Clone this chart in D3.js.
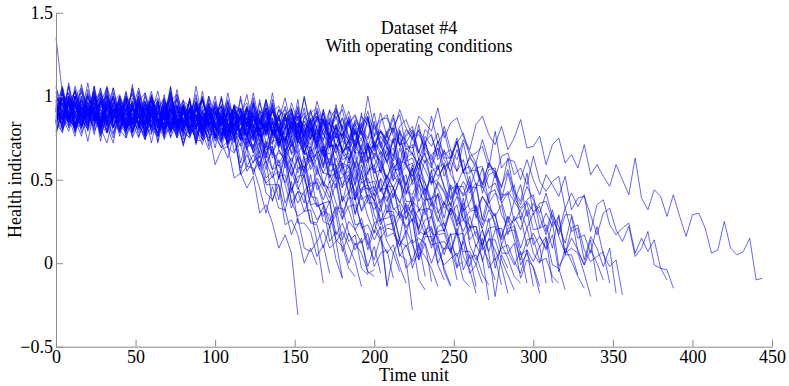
<!DOCTYPE html>
<html>
<head>
<meta charset="utf-8">
<script src="https://cdn.jsdelivr.net/npm/d3@7"></script>
<style>
  body { margin: 0; background: #fff; }
  svg { display: block; }
  svg text { font-family: "Liberation Serif", "Times New Roman", serif; }
</style>
</head>
<body>
<div id="chart"></div>
<script>
// health indicator per unit, in hundredths, one reading every timeStep units
var timeStep = 4;
var u01 = [93,84,98,87,80,94,90,84,99,81,90,93,84,75,91, 95,85,80,92,75,82,93,74,73,78,59,68,70,51,54,45,52,30,35,24,9,17,6,-31];
var u02 = [91,86,98,93,87,102,91,81,96,99,88,92,84,103,90,85, 93,98,80,91,85,92,71,88,90,76,69,73,75,57,65,55,61,42,38,47,23,26,17,0,9,-1];
var u03 = [94,91,84,95,85,81,101,77,87,91,83,78,95,84,89,72,90,86, 79,93,79,75,85,88,77,77,69,85,67,72,55,61,64,47,47,47,31,49,24,24,19,4,11,-6];
var u04 = [94,98,89,79,95,100,90,85,97,82,90,102,85,87,95,78,91,96,82, 89,85,98,80,90,84,74,87,81,72,89,69,60,70,61,51,62,47,33,43,41,24,23,9,22,2,-9];
var u05 = [135,102,82,100,105,93,89,95,101,86,98,92,102,88,90,103,85,94,92,81, 97,94,87,98,87,82,100,76,84,85,75,68,82,68,70,50,64,55,44,53,35,26,31,29,14,10,-3,-8];
var u06 = [80,93,98,83,90,86,99,81,92,87,79,93,89,82,102,83,78,91,86,79,94, 83,74,89,91,79,83,74,91,77,71,77,79,60,68,60,66,42,57,58,42,34,36,37,17,24,13,17,-3,-7];
var u07 = [83,79,96,84,89,73,91,86,79,93,80,75,86,90,81,82,76,94,79,86,72,82, 89,76,80,84,72,94,73,78,77,66,78,66,56,68,61,53,64,43,48,48,35,21,33,33,18,8,15,-6,-4];
var u08 = [84,99,95,87,107,89,84,96,91,85,100,88,79,94,97,85,90,82,101,87,83,91, 96,79,90,84,92,71,89,93,80,74,79,83,65,75,67,74,57,56,66,44,49,43,29,40,32,20,27,12,2,16,-13];
var u09 = [85,81,92,95,86,88,82,99,84,92,78,87,94,81,85,89,78,101,81,86,87,78,92, 82,75,89,84,79,93,74,82,84,74,63,77,80,68,61,70,53,58,67,47,45,50,30,39,39,21,23,14,22,-14,6,-5];
var u10 = [91,96,88,106,93,89,97,101,84,95,90,98,78,97,102,89,85,92,98,82,94,89,99,84, 86,100,82,90,88,77,92,88,79,90,78,72,90,65,72,74,63,56,70,55,57,37,51,43,32,41,24,15,21,20,5,2,-28];
var u11 = [100,90,86,97,82,90,103,85,87,95,79,91,96,82,89,84,97,80,91,85,77,92,88,81,100, 82,77,90,84,78,92,80,70,83,85,72,76,66,82,67,60,66,68,48,56,47,53,29,44,45,29,20,23,24,4,11,1,5];
var u12 = [91,86,96,81,83,97,79,87,85,75,91,87,80,92,82,77,97,74,84,87,79,75,92,80,85, 69,87,83,75,89,75,70,80,83,73,74,66,82,66,72,56,63,68,52,54,56,42,61,38,41,38,25,35,21,10,20,11,2,12,-11];
var u13 = [99,95,90,104,86,95,99,89,80,96,101,90,86,98,83,90,103,86,88,95,79,92,97,82,89,85, 98,81,92,86,78,92,87,79,98,79,73,84,77,69,82,69,58,70,71,57,59,48,64,47,40,44,45,24,31,22,26,2,16,16,-1,-10];
var u14 = [84,104,81,90,94,86,82,98,87,92,76,93,89,82,96,82,78,89,93,83,85,79,97,81,89,75,85, 92,79,83,87,76,98,78,83,83,73,85,74,65,78,72,65,78,57,64,66,54,42,55,57,44,37,45,27,31,40,19,17,21,0,9,9,-10];
var u15 = [105,94,85,99,102,91,96,87,106,93,89,96,101,84,95,89,98,78,97,101,89,85,92,98,82,94,89,98, 85,87,101,82,91,88,77,92,88,80,91,79,74,92,67,75,76,66,60,74,60,62,43,58,50,40,50,33,25,32,32,18,16,5,18,-2,1];
var u16 = [79,89,96,82,86,91,80,102,82,88,89,79,93,83,76,89,85,80,95,77,85,89,80,71,86,91,81,76,88, 73,81,94,76,78,85,69,81,85,70,76,71,82,64,73,66,56,69,63,54,71,51,43,53,45,36,48,34,21,33,32,17,18,6,21,4,-4,-18];
var u17 = [89,102,85,95,90,82,97,92,85,105,87,81,94,89,83,97,86,77,92,94,83,88,80,98,85,81,89,93,76,87, 82,91,71,89,94,82,77,83,88,72,83,77,85,70,70,82,62,69,65,53,66,61,51,60,48,41,57,31,38,38,27,19,32,17,18,-2,11,3,-22];
var u18 = [83,101,97,89,103,90,86,96,100,91,93,86,104,89,97,82,92,99,86,90,94,83,106,86,91,92,83,96,86,79, 93,89,84,98,80,88,92,82,72,87,91,80,74,85,68,74,85,66,66,72,54,64,67,50,54,47,57,37,45,36,25,36,28,17,33,11,2,10,1,-10];
var u19 = [84,92,97,79,90,85,94,73,92,97,85,80,87,93,78,89,84,94,80,82,95,77,86,84,73,89,86,79,90,80,76, 96,73,83,87,78,74,90,78,83,66,83,78,69,82,68,62,71,74,63,63,55,70,53,59,42,49,54,38,39,41,27,46,23,26,23,10,20,6,-20,5,-3];
var u20 = [93,106,89,90,98,82,95,99,85,92,88,100,83,94,89,80,95,91,84,104,85,80,93,87,81,96,85,75,90,93,82,86, 79,98,85,81,88,93,75,85,79,87,66,84,88,74,69,74,79,62,72,65,73,56,56,67,47,53,48,35,48,42,31,40,26,19,35,8,14,14,2,-7,-16];
var u21 = [88,84,91,96,81,93,88,97,83,85,99,80,89,87,77,92,89,82,94,83,79,99,76,85,89,81,77,93,82,87,71,88, 85,78,92,79,74,85,88,79,80,73,90,74,81,66,74,80,65,68,71,58,79,57,61,60,49,60,48,38,49,43,35,47,26,31,32,20,7,20,21,7,-1,7,-12];
var u22 = [94,88,106,90,98,84,94,100,87,91,96,84,107,87,93,93,84,98,88,80,94,90,85,100,81,90,94,84,75,91,96,85,81, 93,78,86,99,81,83,90,74,86,90,75,81,76,88,69,79,72,63,76,70,61,79,59,52,63,56,47,59,46,34,46,46,32,34,23,38,22,14,19,20,-1,6,-3,-18];
var u23 = [98,80,89,86,76,92,89,81,93,83,79,98,75,85,89,80,76,93,82,86,70,88,84,77,90,77,73,83,87,78,80,73,91,76, 84,70,80,87,73,77,81,70,92,71,77,77,67,79,68,60,73,67,61,74,54,61,63,52,41,55,58,45,39,48,31,36,46,26,25,30,11,21,22,5,8,1,10,-12];
var u24 = [96,85,108,87,93,94,85,98,88,81,95,90,85,100,82,90,94,85,76,92,97,87,82,94,79,86,99,82,84,91,75,88,92,78,85, 81,94,77,88,82,74,88,84,76,95,77,71,83,77,69,83,71,60,74,75,63,66,56,73,58,52,58,60,41,49,42,48,26,42,44,29,22,26,28,10,18,10,16,-1,-3,-16];
var u25 = [106,88,97,100,91,82,98,102,92,88,100,84,92,105,88,89,97,81,94,98,84,91,87,99,82,93,88,79,94,90,83,102,84,79,92,86, 81,96,85,76,90,93,82,86,77,95,82,77,84,88,70,79,73,81,59,76,80,66,60,65,69,52,62,55,62,46,45,57,36,42,37,24,37,31,21,30,16,9,25,-2,5,5,-7];
var u26 = [85,105,87,81,94,89,83,97,86,77,92,94,83,88,80,98,85,81,89,94,76,87,82,91,70,89,94,82,77,84,90,75,86,81,91,76,78, 92,74,83,81,70,86,83,75,87,76,71,90,67,76,79,69,64,80,68,71,54,70,64,56,68,53,47,56,58,47,46,38,54,36,42,25,32,36,20,21,23,9,29,6,9,6,-6,-20];
var u27 = [93,83,99,95,88,100,90,85,105,82,92,95,87,83,100,88,93,77,95,91,83,97,84,79,90,94,85,86,80,98,83,90,76,86,93,79,83,88, 77,100,80,86,86,77,91,80,73,86,81,75,90,71,79,81,71,61,76,79,68,62,73,56,62,73,54,54,60,42,53,55,39,43,37,47,28,36,28,17,29,22,12,28,7,-1,8,0,-10];
var u28 = [92,96,87,88,82,100,85,92,78,88,95,81,85,90,79,101,81,87,88,78,92,82,75,88,84,79,94,75,84,88,79,69,85,90,80,75,87,72,80, 93,76,78,86,69,82,87,72,79,74,86,69,79,73,64,78,73,65,83,64,57,69,62,55,68,55,44,57,58,45,48,38,54,39,33,38,41,21,30,22,28,5,21,23,8,1,4,7,-12];
var u29 = [91,82,98,102,92,88,100,84,92,105,88,89,97,81,94,98,84,91,87,99,82,93,88,79,94,90,83,102,84,79,92,87,80,95,84,74,89,92,81,85, 78,97,84,80,87,92,75,85,79,88,67,85,89,76,71,77,82,66,76,70,78,63,63,75,55,63,59,47,60,55,46,56,43,37,54,29,36,37,26,19,33,19,21,2,16,9,-2,9,-18];
var u30 = [92,96,88,83,100,89,94,77,95,91,84,97,84,80,91,94,85,87,81,98,83,91,77,86,93,80,84,89,77,100,80,86,86,77,91,81,73,87,83,77,92, 74,83,87,78,68,84,89,78,74,85,69,77,89,71,72,79,62,73,77,62,67,62,73,54,64,57,47,60,54,45,63,42,35,46,38,30,42,28,17,29,29,15,17,6,22,5,-2,2,-19];
var u31 = [97,100,89,93,85,104,91,86,94,99,82,92,87,96,76,94,99,87,83,89,95,80,92,86,96,82,84,97,79,88,86,76,91,88,81,92,82,78,98,74,84,88,80,75,92, 81,86,70,88,83,76,90,76,72,82,86,76,77,70,88,72,79,63,72,78,64,66,70,57,79,57,62,61,50,62,50,41,53,47,40,52,32,39,40,29,17,30,33,20,13,22,4,9,19,-1,-3,-10];
var u32 = [85,99,86,81,92,96,87,88,82,100,85,92,78,88,95,81,85,90,79,101,81,87,88,78,92,82,75,88,84,79,94,75,84,88,79,70,85,90,80,75,87,72,80,92,75,77, 85,69,82,87,72,79,75,87,70,80,75,66,80,76,64,82,68,62,74,67,60,74,61,51,64,66,53,57,47,64,49,43,49,52,33,42,34,41,19,35,38,23,17,21,24,6,15,7,14,-3,-4,-15];
var u33 = [103,88,100,94,104,90,92,105,87,96,94,83,99,96,89,100,90,86,106,82,92,96,88,83,100,89,94,77,95,91,84,97,84,80,91,94,85,87,81,99,83,91,77,86,93,80,84,88,77,100, 80,86,87,78,92,81,74,88,84,79,93,75,84,87,76,68,83,88,77,71,82,68,75,86,69,70,76,59,71,75,60,65,57,71,53,59,52,46,59,50,41,63,39,32,44,40,28,41,28,16,29,30,21,6,8,25,9,5,7,15,-10,-9];
var u34 = [92,87,79,93,89,82,102,83,78,91,86,79,94,83,74,88,91,80,85,76,95,82,78,85,90, 73,81,72,78,54,70,71,56,48,52,55,36,45,36,43,25,24,34,13,19,13,0,12,6,-5,-8];
var u35 = [90,86,106,82,92,96,88,83,100,89,94,77,95,91,84,97,84,80,91,95,85,87,81,99,83,91,77,86, 93,77,78,80,66,86,63,66,64,52,63,50,40,51,44,36,48,27,34,35,23,11,24,26,13,6,15,-3,2,12,-8];
var u36 = [76,95,100,87,83,90,96,80,92,87,97,82,84,98,80,88,86,76,92,88,81,93,83,78,98,75, 85,88,80,74,90,78,81,63,79,73,64,76,61,55,63,65,54,53,45,60,42,48,31,38,42,26,27,29,15,35,12,15,12,0,11,-3,-13];
var u37 = [91,87,82,96,78,87,91,81,72,88,93,82,78,90,75,82,95,78,80,87,71,84,89,74,81,77,90,72, 83,77,69,82,77,69,87,68,61,72,65,57,70,57,46,59,59,46,49,38,55,39,32,38,40,20,28,21,27,4,20,22,7,-1,3,6,-10,-14];
var u38 = [88,83,96,90,84,99,88,78,93,96,85,89,81,100,87,82,90,95,78,88,83,92,72,91,95,83,79,86,91,76, 88,81,89,72,72,84,64,71,66,54,68,63,54,63,51,45,63,38,45,47,37,31,46,32,35,17,33,27,17,29,14,8,17,18,7,7,-1,15,-3,3,-13];
var u39 = [95,80,88,100,83,85,93,76,89,94,80,86,82,95,78,88,83,75,90,85,78,98,80,74,87,82,76,90,79,70,85, 88,76,80,71,89,75,70,76,80,61,71,64,71,50,67,70,56,50,55,59,43,52,45,53,37,37,49,29,36,32,19,33,28,19,28,16,10,27,2,9,11,1,-6,8,-14];
var u40 = [97,81,99,94,87,101,88,83,94,98,89,90,84,102,87,94,80,90,97,83,87,92,81,103,83,89,90,80,94,84,77,90,86,81, 96,77,86,89,79,70,85,88,77,72,83,66,73,84,66,66,72,54,65,69,53,58,52,62,43,52,45,35,47,41,32,49,29,21,32,24,15,28,14,2,14,15,1,3,-8,-12];
var u41 = [85,92,88,100,83,94,89,80,95,91,84,103,85,80,93,87,81,96,85,75,90,93,82,86, 78,95,79,72,77,78,58,65,56,61,37,52,53,37,28,31,32,13,20,9,13,-9];
var u42 = [91,105,87,95,93,83,99,95,88,100,90,85,105,82,92,95,87,83,100,88,93,77,95,90,83, 97,83,78,89,92,82,83,76,92,76,82,66,75,80,65,67,70,57,78,56,60,58,47,59,46,37,51,44,39,51,26,37,33,21,9,22,24,11,4,13,-6,-1,-12];
var u43 = [88,101,95,82,98,91,96,84,103,88,92,82,95,99,86,87,96,78, 92,88,93,79,93,78,68,78,72,63,78,53,58,57,45,30,46,33,32,17,27,9,7,13,-12];
var u44 = [91,87,95,78,93,89,85,94,78,91,86,99,80,88,82,93,73,90,85,77,94, 81,87,79,92,81,73,92,74,77,68,78,58,71,66,58,64,44,52,53,35,36,28,37,13,19,10,1,-14];
var u45 = [98,96,86,100,89,87,106,82,92,87,97,80,90,94,77,94,91,86,96,81, 86,96,80,83,73,83,89,69,66,77,68,53,67,51,55,38,61,36,43,31,40,39,25,23,29,7,18,11,13,-2,10,-6];
var u46 = [78,91,88,81,100,79,88,90,82,72,93,83,87,78,93,79,83,94,75,85,80,88,72,86, 82,77,87,69,81,74,87,66,72,56,70,51,66,58,48,62,46,49,38,49,36,26,42,23,24,8,20,14,6,11,-2,-12];
var u47 = [85,97,102,88,93,90,104,85,97,93,91,81,97,95,85,99,88,86,105,81,91,86,96,79,89, 93,76,94,90,85,94,79,83,93,77,80,70,80,87,66,64,74,66,51,63,53,55,40,55,36,36,23,31,31,13,10,14,-10,-16];
var u48 = [90,96,84,99,87,80,93,89,83,102,81,89,92,84,74,94,85,89,80,94,81,85,96,76, 86,81,88,71,84,78,72,81,63,73,66,78,57,63,54,64,41,56,48,39,56,37,43,30,41,28,18,35,16,18,11,17,-3,9,4,-3,-14];
var u49 = [83,95,100,86,91,88,102,83,95,91,89,79,95,93,83,97,86,84,103,79,89,84,94,77,87,91,74,91, 88,83,93,78,83,93,78,81,72,83,90,71,69,80,72,58,71,62,64,50,66,48,49,36,46,46,29,27,32,9,19,11,12,-5,-14];
var u50 = [93,86,99,95,89,108,87,95,98,90,80,100,91,95,86,100,87,91,102,83,92,88,96,80,94,90,86, 96,80,92,86,99,79,85,78,88,67,82,75,66,81,66,70,60,71,59,49,67,48,51,41,50,30,42,37,30,36,17,26,28,12,13,7,18,-4,5,-14];
var u51 = [87,78,94,91,81,96,85,82,101,78,88,83,92,76,86,90,72,90,87,81,91,77,82,92,78,82,74,85, 94,75,74,86,79,65,80,71,75,58,79,62,64,53,64,66,51,51,58,38,49,44,46,34,47,33,28,36,29,20,37,13,19,20,9,-3,15,3,5,-7,-13];
var u52 = [87,91,102,82,92,88,96,79,94,90,86,95,79,92,87,100,81,89,83,94,74,91,86,79,95,82,88,79,93,83,76,95, 79,84,77,88,71,86,83,78,86,69,80,84,70,73,69,81,61,71,65,61,50,64,59,47,59,42,37,56,30,37,29,35,15,22,22,1,15,8,-2,-18];
var u53 = [102,88,93,103,89,93,85,96,105,87,87,99,93,81,97,89,94,83,102,86,90,81,94,97,84,86,95,76,90,87, 93,81,96,83,75,87,83,76,94,71,79,80,71,59,78,67,69,58,71,56,58,67,46,53,47,53,34,47,40,34,41,22,33,25,36,14,19,11,20,-3,11,3,-8,-12];
var u54 = [86,92,84,97,87,80,100,83,88,81,93,75,90,88,84,92,76,88,93,80,84,81,95,76,88,84,82,72,88,86,76,90, 79,77,95,71,81,75,84,66,75,78,59,76,71,65,73,57,61,70,54,56,46,56,63,43,41,51,43,29,42,33,36,22,39,21,22,11,21,22,6,6,12,-9,2,-2,-14];
var u55 = [86,102,90,82,95,92,86,104,83,92,95,86,76,97,88,91,82,97,84,87,98,79,89,85,92,76,91,86,82,92,76,88,83,97,78, 86,80,92,72,88,83,75,92,78,83,74,87,76,68,87,69,73,64,75,56,69,65,59,66,48,57,60,44,47,41,52,31,40,33,28,16,28,23,9,21,6,0,15,-12];
var u56 = [92,87,97,80,90,94,77,94,91,86,96,81,86,97,83,86,78,90,99,80,80,93,87,74,90,83,88,76,95,80,84,74,87,91,78, 80,89,70,84,80,85,72,87,74,66,78,74,66,84,61,69,71,61,49,69,58,60,49,62,48,50,59,38,46,40,46,27,40,34,28,35,17,28,20,32,11,16,8,17,-5,9,1,-8,-15];
var u57 = [92,98,90,103,93,86,106,89,94,87,99,81,96,94,90,98,82,94,99,85,90,87,101,82,94,90,88,78,94,92,82,96,85,83,102,78,88,83,93,76, 86,90,73,91,87,82,91,77,81,91,77,80,71,82,89,70,69,80,73,59,73,65,68,55,72,55,56,45,56,57,41,41,47,26,37,31,34,19,32,16,6,15,8,-1,14,-11];
var u58 = [92,95,87,76,97,88,92,82,97,84,88,98,79,89,85,92,76,91,87,83,92,76, 89,83,95,75,81,73,83,60,75,67,58,72,56,59,48,59,46,36,53,34,36,25,34,14,25,20,12,18,-2,6,8,-9];

var units = [u01,u02,u03,u04,u05,u06,u07,u08,u09,u10,u11,u12,u13,u14,u15,u16,u17,u18,u19,u20,
             u21,u22,u23,u24,u25,u26,u27,u28,u29,u30,u31,u32,u33,u34,u35,u36,u37,u38,u39,u40,
             u41,u42,u43,u44,u45,u46,u47,u48,u49,u50,u51,u52,u53,u54,u55,u56,u57,u58];

var xTicks = [0, 50, 100, 150, 200, 250, 300, 350, 400, 450];
var yTicks = [-0.5, 0, 0.5, 1, 1.5];
var yTickLabels = ["\u22120.5", "0", "0.5", "1", "1.5"];
var titleLines = ["Dataset #4", "With operating conditions"];

var margin = {top: 12.7, right: 17, bottom: 39.3, left: 56},
    width = 789 - margin.left - margin.right,
    height = 386 - margin.top - margin.bottom;

var svg = d3.select("#chart")
  .append("svg")
  .attr("width", 789)
  .attr("height", 386)
  .append("g")
  .attr("transform", "translate(" + margin.left + "," + margin.top + ")");

var x = d3.scaleLinear().domain([0, 450]).range([0, width]);
var y = d3.scaleLinear().domain([-0.5, 1.5]).range([height, 0]);

var line = d3.line()
  .x(function(d, i) { return x(i * timeStep); })
  .y(function(d) { return y(d / 100); });

svg.append("g")
  .selectAll("path")
  .data(units)
  .enter()
  .append("path")
  .attr("d", line)
  .style("fill", "none")
  .style("stroke", "#0000ff")
  .style("stroke-width", 1)
  .style("stroke-opacity", 0.6)
  .style("stroke-linejoin", "round");

// axes: ticks point inwards, grey like the original
var xAxis = svg.append("g")
  .attr("transform", "translate(0," + height + ")")
  .call(d3.axisBottom(x).tickValues(xTicks).tickSizeInner(-7).tickSizeOuter(0).tickPadding(3.5));

var yAxis = svg.append("g")
  .call(d3.axisLeft(y).tickValues(yTicks).tickSizeInner(-7).tickSizeOuter(0).tickPadding(3)
    .tickFormat(function(d, i) { return yTickLabels[i]; }));

[xAxis, yAxis].forEach(function(a) {
  a.selectAll("path, line").attr("stroke", "#8a8a8a");
  a.selectAll("text")
    .attr("fill", "#000")
    .style("font-size", "18px");
});

svg.append("text")
  .attr("x", width / 2)
  .attr("y", 368)
  .attr("text-anchor", "middle")
  .style("font-size", "18px")
  .text("Time unit");

svg.append("text")
  .attr("transform", "translate(-35," + (height / 2) + ") rotate(-90)")
  .attr("text-anchor", "middle")
  .style("font-size", "18px")
  .text("Health indicator");

svg.selectAll(".title")
  .data(titleLines)
  .enter()
  .append("text")
  .attr("class", "title")
  .attr("x", 363)
  .attr("y", function(d, i) { return 21.5 + i * 18; })
  .attr("text-anchor", "middle")
  .style("font-size", "18px")
  .text(function(d) { return d; });
</script>
</body>
</html>
